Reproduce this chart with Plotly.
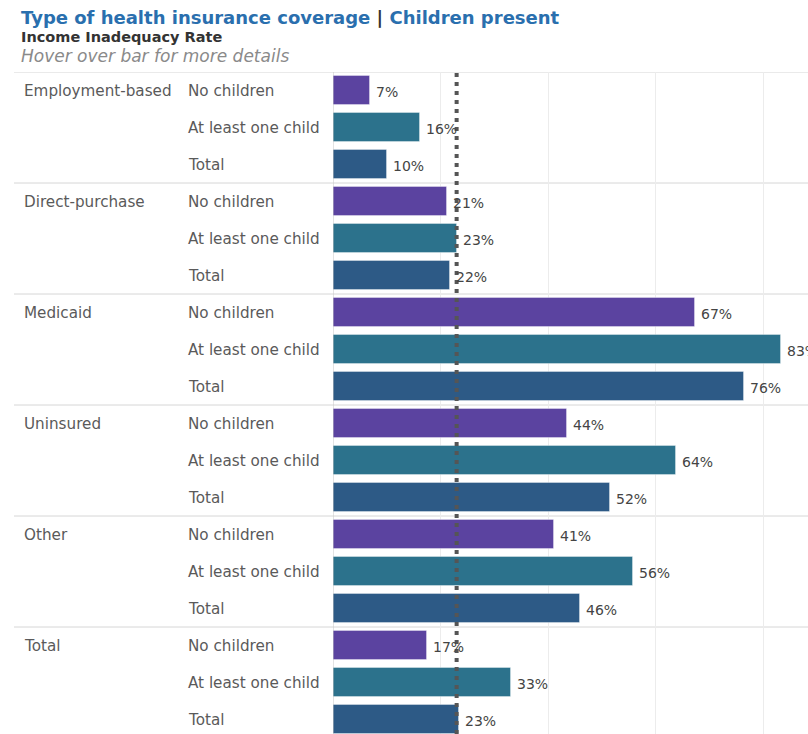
import plotly.graph_objects as go

groups = ["Employment-based", "Direct-purchase", "Medicaid", "Uninsured", "Other", "Total"]
subcats = ["No children", "At least one child", "Total"]
values = {
    "Employment-based": [6.8, 16.1, 10.1],
    "Direct-purchase": [21.2, 23.0, 21.7],
    "Medicaid": [67.4, 83.4, 76.4],
    "Uninsured": [43.6, 63.8, 51.6],
    "Other": [41.1, 55.8, 46.0],
    "Total": [17.4, 33.1, 23.4],
}
reference_value = 23.0
sub_colors = ["#5b43a0", "#2c728c", "#2d5a86"]

W, H = 808, 734
L, T = 333, 72
FONT = "DejaVu Sans"

fig = go.Figure()

annotations = []
for si, sc in enumerate(subcats):
    ys, xs = [], []
    for gi, g in enumerate(groups):
        ys.append(gi * 3 + si)
        xs.append(values[g][si])
    fig.add_trace(go.Bar(
        x=xs, y=ys, orientation="h", width=0.78,
        marker=dict(color=sub_colors[si], line=dict(color="rgba(255,255,255,0.35)", width=1)),
        name=sc, showlegend=False,
        hovertemplate=sc + ": %{x:.0f}%<extra></extra>",
    ))
    for x, y in zip(xs, ys):
        annotations.append(dict(
            x=x, y=y, xref="x", yref="y", text=f"{round(x)}%", showarrow=False,
            xanchor="left", yanchor="middle", xshift=4, yshift=-1,
            font=dict(family=FONT, size=14, color="#444444")))

pw = W - L
def px2paper(px):
    return (px - L) / pw

for gi, g in enumerate(groups):
    annotations.append(dict(
        x=px2paper(22), y=gi * 3, xref="paper", yref="y", text=g, showarrow=False,
        xanchor="left", yanchor="middle", font=dict(family=FONT, size=15.2, color="#5a5a5a")))
    for si, sc in enumerate(subcats):
        annotations.append(dict(
            x=px2paper(186), y=gi * 3 + si, xref="paper", yref="y", text=sc, showarrow=False,
            xanchor="left", yanchor="middle", font=dict(family=FONT, size=15.2, color="#5a5a5a")))

def py2paper(py):
    return (H - py) / (H - T)

annotations.append(dict(
    x=px2paper(19), y=py2paper(17), xref="paper", yref="paper", showarrow=False,
    xanchor="left", yanchor="middle",
    text="<b><span style='color:#2a6fae'>Type of health insurance coverage</span> <span style='color:#333333'>|</span> <span style='color:#2a6fae'>Children present</span></b>",
    font=dict(family=FONT, size=18)))
annotations.append(dict(
    x=px2paper(19), y=py2paper(37), xref="paper", yref="paper", showarrow=False,
    xanchor="left", yanchor="middle", text="<b>Income Inadequacy Rate</b>",
    font=dict(family=FONT, size=14.5, color="#333333")))
annotations.append(dict(
    x=px2paper(19), y=py2paper(56), xref="paper", yref="paper", showarrow=False,
    xanchor="left", yanchor="middle", text="<i>Hover over bar for more details</i>",
    font=dict(family=FONT, size=17, color="#8a8a8a")))

shapes = []
for gi in range(len(groups) + 1):
    yv = gi * 3 - 0.5
    shapes.append(dict(type="line", xref="paper", yref="y", x0=px2paper(14), x1=1,
                       y0=yv, y1=yv, line=dict(color="#d6d6d6", width=1), layer="below"))
shapes.append(dict(type="line", xref="x", yref="paper", x0=0, x1=0, y0=0, y1=1,
                   line=dict(color="#c8c8c8", width=1), layer="above"))
shapes.append(dict(type="line", xref="x", yref="paper", x0=reference_value, x1=reference_value,
                   y0=0, y1=1, line=dict(color="#555555", width=4, dash="4px,5px"), layer="above"))

y_bottom = -0.5 + (H - T) / 37.0

fig.update_layout(
    width=W, height=H,
    margin=dict(l=L, r=0, t=T, b=0, pad=0),
    paper_bgcolor="white", plot_bgcolor="white",
    barmode="overlay", bargap=0,
    xaxis=dict(range=[0, pw / 5.375], showticklabels=False, tickvals=[20, 40, 60, 80],
               showgrid=True, gridcolor="#ececec", gridwidth=1, zeroline=False, showline=False,
               fixedrange=True),
    yaxis=dict(range=[y_bottom, -0.5], showticklabels=False, showgrid=False, zeroline=False,
               showline=False, fixedrange=True),
    annotations=annotations, shapes=shapes,
    font=dict(family=FONT),
)

fig.write_html("out.html")
